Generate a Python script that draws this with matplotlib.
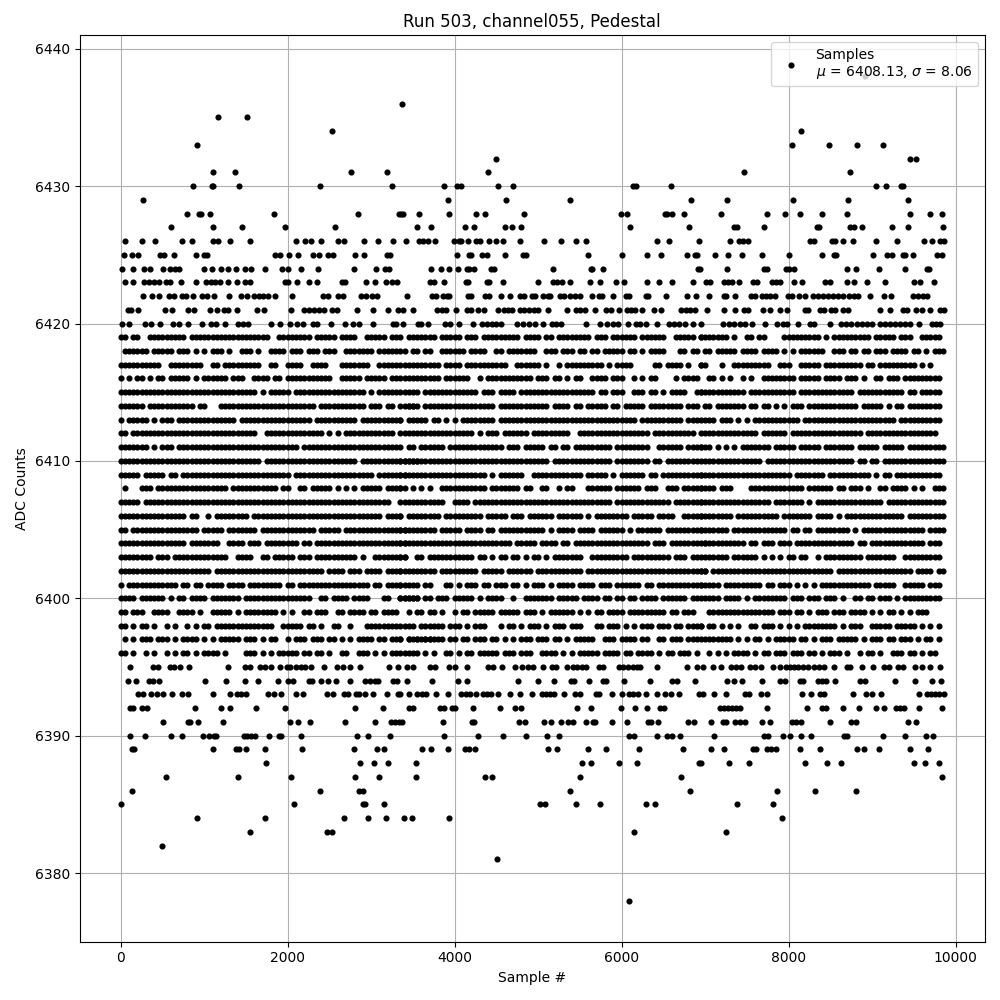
import matplotlib
matplotlib.use('Agg')
import matplotlib.pyplot as plt

TITLE = 'Run 503, channel055, Pedestal'
LABEL = 'Samples\n$\\mu$ = 6408.13, $\\sigma$ = 8.06'

# sparse levels: sample numbers
x_6438 = [8918]
x_6436 = [3369]
x_6435 = [1166, 1513]
x_6434 = [2530, 8150]
x_6433 = [913, 8042, 8486, 8822, 9134]
x_6432 = [4497, 9458, 9530]
x_6431 = [1104, 1368, 2757, 3190, 4401, 7466, 8738]
x_6430 = [866, 1095, 1110, 1415, 2387, 3250, 3873, 4029, 4077, 4521, 4701, 6141, 6177, 6597, 9050, 9170, 9350, 9374]
x_6429 = [266, 3921, 4617, 5385, 6837, 7262, 8054, 8714, 9434]
x_6428 = [800, 935, 960, 1070, 1835, 2840, 3330, 3357, 3381, 3573, 3933, 4257, 4365, 4833, 5997, 6069, 6525, 6549, 6609, 6753, 7190, 7742, 7958, 8138, 8402, 8702, 9458, 9698, 9842]
x_6427 = [605, 1109, 1457, 1973, 2573, 3549, 3717, 4125, 4233, 4605, 4689, 4797, 6105, 6813, 7346, 7382, 7706, 8342, 8366, 8738, 8786, 8882, 9242, 9434, 9854]
x_6426 = [53, 257, 413, 737, 857, 1109, 1169, 1313, 1553, 2105, 2213, 2285, 2405, 2609, 2669, 2909, 3077, 3257, 3417, 3573, 3621, 3681, 3765, 3993, 4053, 4077, 4161, 4257, 4305, 4413, 4497, 4581, 4785, 5073, 5277, 5457, 5577, 6429, 6573, 6933, 7298, 7406, 7454, 7514, 8258, 8306, 8522, 8558, 8654, 8774, 9050, 9302, 9626, 9722, 9818, 9860]
x_6425 = [41, 137, 209, 473, 521, 641, 905, 1001, 1037, 1853, 1913, 2021, 2129, 2309, 2381, 2489, 2549, 2801, 2909, 3185, 3221, 4029, 4173, 4197, 4329, 4389, 4605, 4821, 4857, 5601, 6009, 6309, 6477, 6789, 6885, 6909, 7118, 7274, 7442, 7682, 8006, 8402, 8546, 8570, 9014, 9182, 9242, 9374, 9398, 9494, 9782, 9842]
x_6424 = [17, 149, 281, 353, 509, 593, 653, 701, 1001, 1097, 1205, 1289, 1385, 1493, 1565, 1733, 1937, 2009, 2165, 2369, 2789, 3053, 3161, 3209, 3717, 3837, 3933, 4041, 4149, 4173, 4233, 4437, 4473, 5181, 5637, 5649, 5781, 6921, 6934, 7262, 7706, 7742, 7970, 8006, 8066, 8702, 8810, 9086, 9398, 9662, 9686]
x_6423 = [53, 149, 281, 341, 401, 461, 545, 593, 725, 905, 1025, 1085, 1133, 1193, 1289, 1397, 1493, 1553, 1973, 2009, 2117, 2261, 2357, 2645, 2681, 2933, 3041, 3173, 3245, 3305, 3705, 3753, 3873, 4137, 4161, 4389, 4413, 4581, 5001, 5181, 5229, 5289, 5385, 5625, 5745, 5937, 6033, 6309, 6453, 6609, 6861, 7010, 7058, 7226, 7274, 7322, 7406, 7574, 7622, 7802, 7850, 7898, 8066, 8162, 8438, 8498, 8702, 8786, 8942, 9158, 9506, 9578, 9746]
x_6422 = [269, 377, 461, 581, 641, 737, 785, 869, 977, 1037, 1121, 1301, 1445, 1517, 1601, 1661, 1709, 1769, 1853, 2057, 2429, 2489, 2609, 2657, 2873, 2933, 3005, 3065, 3429, 3729, 3777, 3861, 3909, 3933, 4161, 4197, 4365, 4413, 4557, 4665, 4785, 4833, 4929, 4965, 5061, 5121, 5145, 5265, 5313, 5385, 5445, 5505, 5649, 5733, 5769, 5901, 6057, 6093, 6297, 6321, 6537, 6789, 6897, 7046, 7226, 7250, 7358, 7550, 7598, 7682, 7730, 7778, 7838, 7994, 8042, 8126, 8198, 8294, 8354, 8414, 8474, 8534, 8594, 8654, 8726, 8786, 8834, 8978, 9146, 9230, 9494, 9554, 9614, 9662]
x_6421 = [89, 125, 209, 533, 617, 809, 881, 1073, 1157, 1241, 1289, 1397, 1637, 1721, 2045, 2201, 2261, 2321, 2381, 2441, 2537, 2597, 2825, 3017, 3197, 3317, 3381, 3501, 3789, 3849, 3897, 4017, 4149, 4197, 4281, 4353, 4521, 4593, 4641, 4689, 4785, 4833, 4893, 4953, 5001, 5121, 5349, 5457, 5505, 5565, 5685, 5817, 5877, 5973, 6069, 6117, 6165, 6249, 6393, 6477, 6717, 6777, 6825, 6885, 7022, 7226, 7358, 7466, 7514, 7694, 7778, 7898, 7982, 8198, 8234, 8378, 8426, 8510, 8558, 8654, 8714, 9098, 9218, 9374, 9422, 9530, 9602, 9698, 9818, 9860]
x_6420 = [17, 101, 293, 365, 473, 629, 701, 809, 977, 1085, 1145, 1253, 1409, 1469, 1529, 1805, 1913, 2033, 2117, 2189, 2309, 2357, 2525, 2681, 2777, 2849, 3017, 3257, 3293, 3381, 3561, 3597, 3681, 3885, 3945, 4053, 4221, 4329, 4389, 4449, 4497, 4557, 4749, 4821, 4893, 4965, 5061, 5169, 5217, 5277, 5577, 5745, 5829, 5901, 5961, 6081, 6177, 6225, 6297, 6429, 6573, 6633, 6693, 6765, 6861, 6950, 7214, 7286, 7346, 7418, 7478, 7562, 7718, 7862, 7934, 7982, 8114, 8258, 8306, 8498, 8630, 8690, 8750, 8822, 8882, 8942, 9002, 9098, 9158, 9218, 9278, 9338, 9398, 9458, 9566, 9722, 9770, 9818]
x_6395 = [113, 389, 449, 593, 641, 713, 821, 1289, 1493, 1553, 1673, 1733, 1805, 1913, 1997, 2033, 2105, 2165, 2213, 2285, 2441, 2597, 2657, 2741, 2861, 3209, 3317, 3429, 3501, 3705, 3765, 3933, 4005, 4149, 4401, 4461, 4569, 4725, 4809, 4881, 4941, 5061, 5169, 5217, 5349, 5421, 5469, 5529, 5577, 5733, 5781, 5973, 6021, 6081, 6141, 6189, 6225, 6429, 6789, 6909, 6974, 7094, 7190, 7310, 7370, 7430, 7538, 7598, 7670, 7814, 7898, 7970, 8018, 8066, 8114, 8174, 8234, 8306, 8366, 8426, 8546, 8702, 8738, 8882, 9014, 9146, 9206, 9314, 9374, 9518, 9602, 9698, 9818]
x_6394 = [89, 185, 341, 389, 461, 1013, 1265, 1493, 1649, 1889, 2009, 2069, 2261, 2297, 2405, 2489, 2585, 2741, 2921, 2981, 3041, 3077, 3257, 3305, 3429, 3729, 4041, 4149, 4761, 5001, 5193, 5397, 5433, 5613, 5781, 5817, 6033, 6345, 6609, 6669, 6885, 7262, 7346, 7442, 7682, 7898, 7958, 8138, 8174, 8354, 8402, 8450, 8558, 8858, 8918, 9278, 9518, 9722, 9830]
x_6393 = [209, 269, 365, 437, 509, 617, 737, 809, 1109, 1313, 1397, 1445, 1505, 1769, 1841, 1925, 2105, 2189, 2477, 2549, 2669, 2717, 2813, 2849, 2921, 3017, 3185, 3317, 3341, 3453, 3549, 3609, 3657, 3777, 3921, 4077, 4137, 4185, 4257, 4341, 4389, 4437, 4521, 4665, 4785, 4929, 5049, 5097, 5145, 5193, 5313, 5445, 5505, 5697, 5733, 5889, 6009, 6093, 6141, 6201, 6297, 6429, 6525, 6597, 6693, 6933, 6974, 7106, 7250, 7478, 7526, 7670, 7742, 8162, 8270, 8378, 8426, 8774, 8930, 9002, 9110, 9566, 9662, 9710, 9758, 9806, 9860]
x_6392 = [113, 149, 257, 317, 893, 1205, 1313, 1625, 1973, 2801, 3137, 3453, 3501, 3825, 3873, 3969, 4005, 4221, 4545, 4725, 4797, 5469, 5637, 5997, 6165, 6309, 6465, 6513, 7178, 7226, 7274, 7322, 7370, 7418, 7742, 8222, 8402, 8450, 8654, 8846, 9050, 9146, 9290, 9338, 9386, 9566, 9842]
x_6391 = [509, 809, 833, 929, 1229, 2033, 2129, 2273, 2681, 3041, 3233, 3281, 3329, 3369, 3861, 4209, 4233, 4773, 4845, 5073, 5157, 5277, 5361, 5421, 5577, 5661, 5685, 5889, 6069, 6321, 6357, 6441, 6801, 6873, 7070, 7214, 7250, 7358, 7418, 7478, 7682, 7778, 8042, 8090, 8150, 8498, 8750, 8810, 9434, 9530]
x_6390 = [113, 293, 605, 737, 989, 1061, 1121, 1145, 1481, 1517, 1565, 1613, 1781, 1901, 1925, 2165, 2825, 2957, 3221, 3873, 4281, 4581, 4857, 5109, 5253, 6093, 6153, 6429, 6549, 6609, 6705, 7106, 7706, 7754, 7934, 8018, 8150, 8270, 8666, 8702, 9134, 9398, 9650, 9734]
x_6389 = [137, 161, 1109, 1385, 1421, 1505, 1733, 2177, 2789, 3065, 3149, 3609, 3717, 3921, 4125, 4173, 4245, 5121, 5229, 5601, 5817, 6213, 6741, 7070, 7226, 7574, 7610, 7742, 7790, 7850, 8138, 8378, 8822, 8906, 9086, 9458, 9674]
x_6388 = [1745, 2861, 3029, 3197, 3537, 5529, 5637, 5973, 6189, 6933, 6954, 7286, 7526, 8198, 8462, 8630, 9506, 9638, 9806]
x_6387 = [545, 1409, 2045, 2801, 3089, 3537, 4365, 4449, 5505, 6717, 9842]
x_6386 = [137, 2393, 2849, 2897, 5385, 6825, 7862, 8318, 8810]
x_6385 = [0, 2081, 2905, 2925, 3149, 5025, 5085, 5457, 5745, 6297, 6405, 7382, 7814]
x_6384 = [917, 1733, 2669, 2957, 3173, 3393, 3489, 3933, 7922]
x_6383 = [1553, 2477, 2537, 6153, 7250]
x_6382 = [497]
x_6381 = [4509]
x_6378 = [6093]

# dense levels: one character per 50 samples, '#' = a sample seen there.
# three stretches per level, starting at the samples in PART_START
PART_START = [0, 3350, 6950]
BIN = 50
m_6419 = ['##.##..#########.###################..########.#####.####..#####.###',
          '..#######.#####.###.#########.####.##.########.###.######.######..#####.#',
          '#######.#..##.##....#########.#.#########.#####.###..#####']
m_6418 = ['.######.#####.###.#.#.###.#..###.#..####.###.###.###..#######.######',
          '.#.##.##..######.####..##.#######..###.###.##.##.#####.##.#.####...##.##',
          '.##.#####.####.####.#.#.######..###.##.##.###.####.##.#.###']
m_6417 = ['##########..########..##.#########..##..####..####...#######..#####',
          '##########.####.##########..######.#..#.#########.#.####.....##.####.#..#',
          '##...#..#########..###..#####.#########.##.#########.#.#..']
m_6416 = ['#.#.##.#.##.#####.#.######.###..####.##.###########..#####.#####.###',
          '.#########.######..#.###########.###.##.#.##..####.###..#.#.##....#.####.',
          '..##.#.#..#.#..########.#####.####.###.#..##.###.#########']
m_6415 = ['#################################.#.#####.#################.#.######',
          '.####.#############.###.####.##################.##.###..###.##.#.####..##',
          '###########.###########.#############.###########.##.#####']
m_6414 = ['######.###########.##...#######################.###########.###.##.#####',
          '..##..#################.############.####.##.#####.##.#####.########.###',
          '.##.#######.##.##.#.#.###.############.#####.#.##.########']
m_6413 = ['#.#####.#.###.##############.#################.##########.##########',
          '#.#####.##.#.#.########.#################################.##########.####',
          '.###.###.#.#.###########.######################.##########']
m_6412 = ['##.##############################..##############.#.#.############',
          '##################.#.###.######.#########..#################.##########.',
          '##############.######.#################.#################.']
m_6411 = ['#######.#.###.#############################.#######################',
          '#.##.######.#############.###.#####.##.##.#########.########..######.####',
          '###.#.#.#.#######.#####.#####.#######.#####.#####.#########']
m_6410 = ['##################################.######################.##############',
          '####################################.##############.########.##.########',
          '###############.#####################.##.##.###############']
m_6409 = ['#####.#####.##.##########################.###################.#######',
          '#####################.#.######..############.#####.#.######.##.##########',
          '######################.#######.##########.#.##.###########']
m_6408 = ['.#...###.#################.###########.##..##.#####.#.#.#.#####.####',
          '##.#.#.#..###########.#######.##..##..#.##...######.######.###..###.#####',
          '####.###....#############.######.##.###.#..##.####.#.#..###']
m_6407 = ['#####.###########################################################',
          '###########..####.#################################.#############.#######',
          '#################.#######.#.################.##############']
m_6406 = ['################.##..#.########.###############################.####',
          '#.########.#########.#####.###.######.######.#.########.#####.####..#####',
          '########.##########.#######.####.#.##############.#########']
m_6405 = ['##.################.#####.#######.#############.#####.###############',
          '#########.#####.####.##.###########.#.####.####.######.#.######.#########',
          '#######.#############.##.##.########.#.###############.####']
m_6404 = ['################.#######..####.###.########.##.######################',
          '###########################.#####.####.##.##################.###.#########',
          '.##########.##.###.###.##############.##.#############.###']
m_6403 = ['########.###.#############..####..##.#####.###.##########.#..########',
          '##..##.###########.##.#.##.##.#.##.#.#######..#########.#########.###.##',
          '#######.######.#.#.#.##.##..#.#########.#######..#########']
m_6402 = ['######################.##########################.####.###.####.####',
          '#########.#########.#####.######.###########.#############################',
          '##.#############################.##################.####.##']
m_6401 = ['#.############.##.##.####.####.########.##.#################.##.#####',
          '#.###.##...##.#.###.##.###.##.#.###.#.####.####.###.######.##.###########',
          '#####.#########.##.###.#.#.#.############.#####..#####.###']
m_6400 = ['####.######.#.##.####.#######.################..##.####.####...##..#####.',
          '#####.##.###.#####.#.####..#..#######.#####.####.##.##.##.####.######.##',
          '#####.####.#.########.###.###.###.#..##.##.###.#.#########']
m_6399 = ['##.###..####..####.#..#####.#.########.#.#..##.###..##.####.##.####',
          '..#.##.##.#..#.##.#####.#####.###.#.######.#.#.##.####.#########.##.###',
          '..################.###.##.#.###.###.####.#.#.##.#.#.###']
m_6398 = ['##.#.##.#..#.#..#.#.##.##############..#####.##.#..##..#...#########..',
          '.###.######.###.#.###...#.##.#.###.#.###.###...##.###.#.#.###.###.##.####',
          '#.##.#.#.#..##.###.#.#.#.########.#.###..#####.#####.#.#.#']
m_6397 = ['.#.#.###.###.#.####.#.#.#####.###.#.##..#.###.###.##.#.#.####.##.###.###.##.#',
          '#.#.#####.#.##.##.###.##.#.#.###.###.##.#.#####..###.####.##..##.###.###.#.',
          '#.######.#.#.##.#.#####.##.#.###.#####.#.###.##.###.#.##.#']
m_6396 = ['##.#..#.#..#.#.##.#.####.#....###.#.#.#####.##.##.#..##..###.#.#.##',
          '#####.#.#..##.#.##.#####.###.###..####.#.#.#####.####.##.####.#.##.###.#',
          '..#.#.#.####.#.##.###.###.##.#.###.#..#.##.#..###.##.#.##.']

x = []
y = []
for name, vals in list(globals().items()):
    if name.startswith('x_') and name[2:].isdigit():
        x += vals
        y += [int(name[2:])] * len(vals)
    if name.startswith('m_') and name[2:].isdigit():
        for part, start in zip(vals, PART_START):
            for i, c in enumerate(part):
                if c == '#':
                    x.append(start + i * BIN)
                    y.append(int(name[2:]))

fig, ax = plt.subplots(figsize=(10, 10))
ax.plot(x, y, 'k.', ms=6.8, label=LABEL)
ax.set_xlabel('Sample #')
ax.set_ylabel('ADC Counts')
ax.set_title(TITLE)
ax.grid(True)
ax.legend(loc='upper right')
plt.tight_layout()
fig.subplots_adjust(top=0.965)
plt.savefig('out.png', dpi=100)
